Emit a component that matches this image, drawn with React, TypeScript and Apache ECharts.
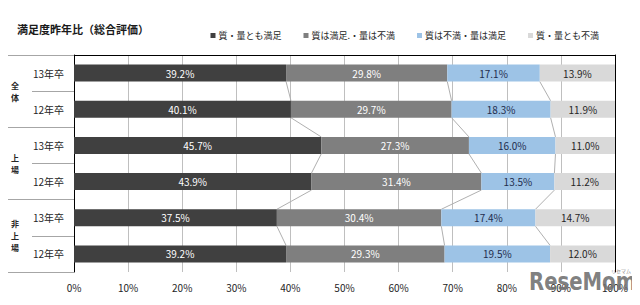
import React, { useEffect, useRef } from "react";
import * as echarts from "echarts";

const title = "満足度昨年比（総合評価）";
const groups = ["全体", "上場", "非上場"];
const years = ["13年卒", "12年卒"];
const seriesNames = ["質・量とも満足", "質は満足.・量は不満", "質は不満・量は満足", "質・量とも不満"];
const bothSatisfied = [39.2, 40.1, 45.7, 43.9, 37.5, 39.2];
const qualityOnly = [29.8, 29.7, 27.3, 31.4, 30.4, 29.3];
const quantityOnly = [17.1, 18.3, 16.0, 13.5, 17.4, 19.5];
const neither = [13.9, 11.9, 11.0, 11.2, 14.7, 12.0];
const xTicks = [0, 10, 20, 30, 40, 50, 60, 70, 80, 90, 100];

const colors = ["#404040", "#7f7f7f", "#9dc3e6", "#d9d9d9"];
const labelColors = ["#ffffff", "#ffffff", "#1f2d4d", "#262626"];
const FONT = "'Noto Sans CJK JP', 'Noto Sans', sans-serif";

export default function App() {
  const ref = useRef<HTMLDivElement>(null);
  useEffect(() => {
    if (!ref.current) return;
    const chart = echarts.init(ref.current, undefined, { renderer: "svg" });
    const rows: string[] = [];
    groups.forEach((g) => years.forEach((y) => rows.push(g + "|" + y)));
    const seriesData = [bothSatisfied, qualityOnly, quantityOnly, neither];
    const cum = rows.map((_, i) => {
      let s = 0;
      return seriesData.slice(0, 3).map((d) => (s += d[i]));
    });
    const barW = 17;
    const bars = seriesData.map((d, k) => ({
      type: "bar",
      name: seriesNames[k],
      stack: "all",
      data: d,
      barWidth: barW,
      xAxisIndex: 0,
      yAxisIndex: 0,
      itemStyle: { color: colors[k] },
      label: {
        show: true,
        position: "inside",
        formatter: (p: any) => p.value.toFixed(1) + "%",
        color: labelColors[k],
        fontSize: 10,
        fontFamily: FONT,
      },
    }));
    const connectors = {
      type: "custom",
      xAxisIndex: 0,
      yAxisIndex: 0,
      silent: true,
      z: 1,
      data: rows.slice(0, -1).map((_, i) => [0, i]),
      renderItem: (params: any, api: any) => {
        const i = params.dataIndex;
        const children = cum[i].map((b, k) => {
          const p1 = api.coord([b, i]);
          const p2 = api.coord([cum[i + 1][k], i + 1]);
          return {
            type: "line",
            shape: { x1: p1[0], y1: p1[1] + barW / 2, x2: p2[0], y2: p2[1] - barW / 2 },
            style: { stroke: "#b0b0b0", lineWidth: 1 },
          };
        });
        return { type: "group", children };
      },
    };
    chart.setOption({
      animation: false,
      textStyle: { fontFamily: FONT },
      title: {
        text: title,
        left: 4,
        top: 10,
        textStyle: { fontSize: 11, fontWeight: "bold", color: "#1a1a1a", fontFamily: FONT },
      },
      legend: {
        data: seriesNames,
        right: 36,
        top: 18,
        itemWidth: 5,
        itemHeight: 5,
        itemGap: 22,
        icon: "rect",
        textStyle: { fontSize: 9, color: "#262626", fontFamily: FONT, padding: [0, 0, 0, -2] },
      },
      grid: { left: 66, right: 25, top: 47, bottom: 33, containLabel: false },
      xAxis: [
        {
          type: "value",
          min: 0,
          max: 100,
          interval: 10,
          axisLine: { show: false },
          axisTick: { show: false },
          splitLine: { show: true, lineStyle: { color: "#bfbfbf", width: 1 } },
          axisLabel: { formatter: (v: number) => (xTicks.includes(v) ? v + "%" : ""), fontSize: 10, color: "#262626", margin: 10 },
        },
        {
          type: "value",
          position: "top",
          min: 0,
          max: 100,
          axisLine: { show: true, lineStyle: { color: "#000", width: 1 } },
          axisTick: { show: false },
          axisLabel: { show: false },
          splitLine: { show: false },
        },
      ],
      yAxis: [
        {
          type: "category",
          data: rows,
          inverse: true,
          position: "left",
          axisLine: { show: true, lineStyle: { color: "#000", width: 1 } },
          axisTick: { show: true, length: 42, lineStyle: { color: "#a6a6a6" } },
          axisLabel: { formatter: (v: string) => v.split("|")[1], fontSize: 10, color: "#262626", margin: 10 },
        },
        {
          type: "category",
          data: groups,
          inverse: true,
          position: "left",
          axisLine: { show: false },
          axisTick: { show: true, length: 66, lineStyle: { color: "#a6a6a6" } },
          axisLabel: {
            formatter: (v: string) => v.split("").join("\n"),
            fontSize: 8,
            lineHeight: 12,
            fontWeight: "bold",
            color: "#262626",
            margin: 55,
          },
        },
        {
          type: "category",
          data: rows,
          inverse: true,
          position: "right",
          axisLine: { show: true, lineStyle: { color: "#000", width: 1 } },
          axisTick: { show: false },
          axisLabel: { show: false },
        },
      ],
      graphic: [
        {
          type: "text",
          x: 521,
          y: 262,
          scaleX: 0.82,
          z: 100,
          style: {
            text: "ReseMom",
            fontSize: 24,
            fontWeight: "bold",
            fill: "rgba(112,112,112,0.9)",
            fontFamily: "'DejaVu Sans', sans-serif",
          },
        },
        {
          type: "text",
          x: 603,
          y: 260,
          z: 100,
          style: { text: "リセマム", fontSize: 5, fill: "#8a8a8a", fontFamily: FONT },
        },
      ],
      series: [...bars, connectors],
    });
    return () => chart.dispose();
  }, []);
  return <div ref={ref} style={{ width: 632, height: 297 }} />;
}
